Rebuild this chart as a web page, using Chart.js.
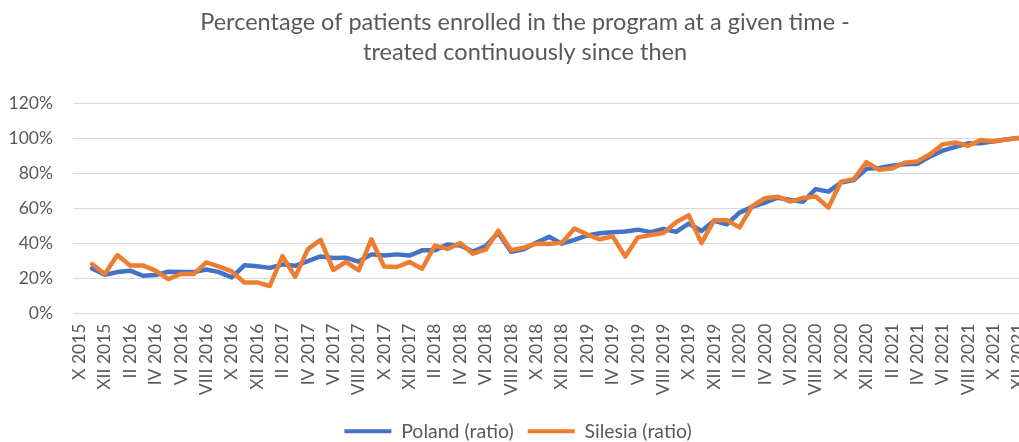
<!DOCTYPE html>
<html>
<head>
<meta charset="utf-8">
<script src="https://cdn.jsdelivr.net/npm/chart.js@4/dist/chart.umd.min.js"></script>
<style>
    body { margin: 0; background: #ffffff; overflow: hidden; }
    #wrap { width: 1050px; height: 442px; position: relative; }
</style>
</head>
<body>
<div id="wrap"><canvas id="myChart"></canvas></div>
<script>
// months X 2015 .. XII 2021
let romans = ["I", "II", "III", "IV", "V", "VI", "VII", "VIII", "IX", "X", "XI", "XII"];
let months = [];
for (let y = 2015; y <= 2021; y++) {
    for (let m = 0; m < 12; m++) {
        if (y === 2015 && m < 9) continue;
        months.push(romans[m] + " " + y);
    }
}

// values in % (first month has no value)
let poland = [null,
    25.7, 22.1, 23.6, 24.4, 21.5, 21.9, 23.8, 23.6, 23.6, 25.1,
    23.6, 20.6, 27.5, 26.9, 26.0, 28.0, 27.2, 29.9, 32.5, 31.6,
    31.8, 29.6, 33.7, 33.0, 33.7, 33.0, 36.0, 36.0, 39.4, 38.8,
    35.3, 38.5, 46.0, 35.2, 36.6, 40.5, 43.7, 39.8, 42.0, 44.5,
    45.7, 46.3, 46.8, 47.8, 46.4, 48.2, 46.5, 51.3, 47.0, 52.8,
    50.9, 57.5, 60.8, 63.2, 66.0, 64.7, 63.7, 70.9, 69.5, 74.7,
    76.1, 82.5, 83.0, 84.2, 85.1, 85.3, 89.5, 92.8, 95.0, 97.0,
    97.1, 98.2, 99.2, 100.0];

let silesia = [null,
    28.2, 22.5, 33.3, 27.4, 27.4, 24.4, 19.6, 22.5, 22.5, 29.1,
    26.7, 24.0, 17.7, 17.7, 15.7, 32.7, 20.9, 36.7, 42.0, 24.8,
    29.4, 24.6, 42.3, 26.8, 26.5, 29.3, 25.5, 38.7, 36.8, 40.2,
    34.1, 36.4, 47.2, 36.1, 37.5, 39.9, 39.6, 40.4, 48.5, 45.0,
    42.3, 44.0, 32.5, 43.4, 44.7, 45.9, 52.0, 56.0, 40.1, 53.2,
    53.2, 49.1, 61.2, 65.7, 66.6, 63.8, 65.9, 66.7, 60.4, 75.2,
    76.6, 86.3, 81.9, 82.7, 85.9, 86.7, 90.8, 96.4, 97.5, 95.6,
    98.9, 98.1, 99.2, 100.0];

let titleLines = ["Percentage of patients enrolled in the program at a given time -", "treated continuously since then"];

const textColor = '#595959';
const fontFamily = 'Lato, "Open Sans", sans-serif';

// two centred title lines at fixed heights above the plot
const titlePlugin = {
    id: 'twoLineTitle',
    afterDraw(chart) {
        const ctx = chart.ctx;
        ctx.save();
        ctx.fillStyle = textColor;
        ctx.font = '23.5px ' + fontFamily;
        ctx.textBaseline = 'middle';
        ctx.textAlign = 'center';
        ctx.fillText(titleLines[0], chart.width / 2, 22);
        ctx.fillText(titleLines[1], chart.width / 2, 52);
        ctx.restore();
    }
};

const ctx = document.getElementById('myChart');

let myChart = new Chart(ctx, {
    type: 'line',
    data: {
        labels: months,
        datasets: [{
            label: 'Poland (ratio)',
            data: poland,
            borderColor: '#4472C4',
            backgroundColor: '#4472C4',
            borderWidth: 4.5,
            pointRadius: 0,
            tension: 0,
            borderJoinStyle: 'round',
            borderCapStyle: 'round',
            order: 2
        }, {
            label: 'Silesia (ratio)',
            data: silesia,
            borderColor: '#ED7D31',
            backgroundColor: '#ED7D31',
            borderWidth: 4.5,
            pointRadius: 0,
            tension: 0,
            borderJoinStyle: 'round',
            borderCapStyle: 'round',
            order: 1
        }]
    },
    options: {
        responsive: true,
        maintainAspectRatio: false,
        animation: false,
        layout: {
            // legend sits a little lower than Chart.js would put it
            padding: { top: 103, right: 22, left: 8, bottom: -9 }
        },
        plugins: {
            title: { display: false },
            tooltip: { enabled: false },
            legend: {
                position: 'bottom',
                labels: {
                    color: textColor,
                    font: { family: fontFamily, size: 19.5 },
                    boxWidth: 47,
                    boxHeight: 4,
                    padding: 14,
                    sort: (a, b) => a.datasetIndex - b.datasetIndex,
                    generateLabels: function (chart) {
                        const items = Chart.defaults.plugins.legend.labels.generateLabels(chart);
                        items.forEach(item => {
                            item.fillStyle = item.strokeStyle;
                            item.lineWidth = 0;
                        });
                        return items;
                    }
                }
            }
        },
        scales: {
            y: {
                min: 0,
                max: 120,
                afterFit: scale => { scale.width = 65; },
                ticks: {
                    stepSize: 20,
                    color: textColor,
                    padding: 20,
                    font: { family: fontFamily, size: 17.5 },
                    callback: v => v + '%'
                },
                grid: {
                    color: '#d9d9d9',
                    lineWidth: 1,
                    drawTicks: false
                },
                border: { display: false }
            },
            x: {
                offset: true,
                afterFit: scale => { scale.height = 94; },
                ticks: {
                    color: textColor,
                    autoSkip: false,
                    minRotation: 90,
                    maxRotation: 90,
                    padding: 10,
                    font: { family: fontFamily, size: 17.5 },
                    callback: function (value, index) {
                        return index % 2 === 0 ? this.getLabelForValue(value) : '';
                    }
                },
                grid: { display: false, drawTicks: false },
                border: { display: false }
            }
        }
    },
    plugins: [titlePlugin]
});
</script>
</body>
</html>
